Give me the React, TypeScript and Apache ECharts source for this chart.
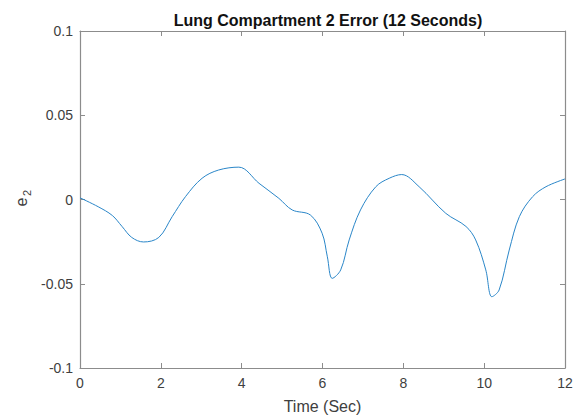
import React, { useEffect, useRef } from "react";
import * as echarts from "echarts";

const title = "Lung Compartment 2 Error (12 Seconds)";
const xName = "Time (Sec)";
const times = [0, 0.45, 0.8, 1.04, 1.28, 1.57, 1.95, 2.28, 2.61, 3.02, 3.43, 3.93, 4.43, 4.92, 5.25, 5.7, 5.99, 6.12, 6.24, 6.45, 6.66, 6.94, 7.32, 7.65, 7.96, 8.39, 9.05, 9.55, 9.79, 10.04, 10.19, 10.37, 10.62, 10.87, 11.2, 11.53, 12];
const errors = [0.001, -0.0043, -0.0095, -0.016, -0.0225, -0.0252, -0.0225, -0.0102, 0.0017, 0.0126, 0.0175, 0.0192, 0.0096, 0.0007, -0.0062, -0.0092, -0.02, -0.034, -0.0468, -0.0418, -0.024, -0.0062, 0.0076, 0.0126, 0.0148, 0.0076, -0.0082, -0.016, -0.024, -0.0418, -0.0577, -0.0537, -0.03, -0.0102, 0.0017, 0.0076, 0.0122];
const yTickLabels: Record<string, string> = { "0.1": "0.1", "0.05": "0.05", "0": "0", "-0.05": "-0.05", "-0.1": "-0.1" };

export default function App() {
  const ref = useRef<HTMLDivElement>(null);
  useEffect(() => {
    if (!ref.current) return;
    const chart = echarts.init(ref.current, null, { renderer: "svg" });
    const font = "Liberation Sans, Arial, sans-serif";
    const axisColor = "#8c8c8c";
    const textColor = "#404040";
    chart.setOption({
      animation: false,
      backgroundColor: "#ffffff",
      title: {
        text: title,
        left: 323,
        top: 7,
        textAlign: "center",
        textStyle: { fontFamily: font, fontSize: 16, fontWeight: "bold", color: "#111" },
      },
      grid: { left: 80, right: 13, top: 31, bottom: 47, containLabel: false, outerBoundsMode: "none" },
      xAxis: [
        {
          type: "value",
          min: 0,
          max: 12,
          interval: 2,
          name: xName,
          nameLocation: "middle",
          nameGap: 30,
          nameTextStyle: { fontFamily: font, fontSize: 16, color: textColor },
          axisLine: { show: true, onZero: false, lineStyle: { color: axisColor, width: 1.2 } },
          axisTick: { show: true, inside: true, length: 5, lineStyle: { color: axisColor } },
          axisLabel: { fontFamily: font, fontSize: 14, color: textColor, margin: 8 },
          splitLine: { show: false },
        },
        {
          type: "value",
          position: "top",
          min: 0,
          max: 12,
          interval: 2,
          axisLine: { show: true, onZero: false, lineStyle: { color: axisColor, width: 1.2 } },
          axisTick: { show: true, inside: true, length: 5, lineStyle: { color: axisColor } },
          axisLabel: { show: false },
          splitLine: { show: false },
        },
      ],
      yAxis: [
        {
          type: "value",
          min: -0.1,
          max: 0.1,
          interval: 0.05,
          axisLine: { show: true, onZero: false, lineStyle: { color: axisColor, width: 1.2 } },
          axisTick: { show: true, inside: true, length: 5, lineStyle: { color: axisColor } },
          axisLabel: {
            fontFamily: font,
            fontSize: 14,
            color: textColor,
            margin: 7,
            formatter: (v: number) => yTickLabels[String(Math.round(v * 100) / 100)] ?? String(v),
          },
          splitLine: { show: false },
        },
        {
          type: "value",
          position: "right",
          min: -0.1,
          max: 0.1,
          interval: 0.05,
          axisLine: { show: true, onZero: false, lineStyle: { color: axisColor, width: 1.2 } },
          axisTick: { show: true, inside: true, length: 5, lineStyle: { color: axisColor } },
          axisLabel: { show: false },
          splitLine: { show: false },
        },
      ],
      graphic: [
        {
          type: "group",
          x: 21,
          y: 202,
          rotation: Math.PI / 2,
          children: [
            {
              type: "text",
              x: 0,
              y: 0,
              style: { text: "e", fontFamily: font, fontSize: 16, fill: textColor, textAlign: "center", textVerticalAlign: "middle" },
            },
            {
              type: "text",
              x: 9,
              y: 6,
              style: { text: "2", fontFamily: font, fontSize: 11, fill: textColor, textAlign: "center", textVerticalAlign: "middle" },
            },
          ],
        },
      ],
      series: [
        {
          type: "line",
          data: times.map((t, i) => [t, errors[i]]),
          smooth: 0.35,
          showSymbol: false,
          lineStyle: { color: "#2a86c8", width: 1 },
          xAxisIndex: 0,
          yAxisIndex: 0,
        },
      ],
    });
    return () => chart.dispose();
  }, []);
  return <div ref={ref} style={{ width: 578, height: 415, position: "absolute", left: 0, top: 0 }} />;
}
